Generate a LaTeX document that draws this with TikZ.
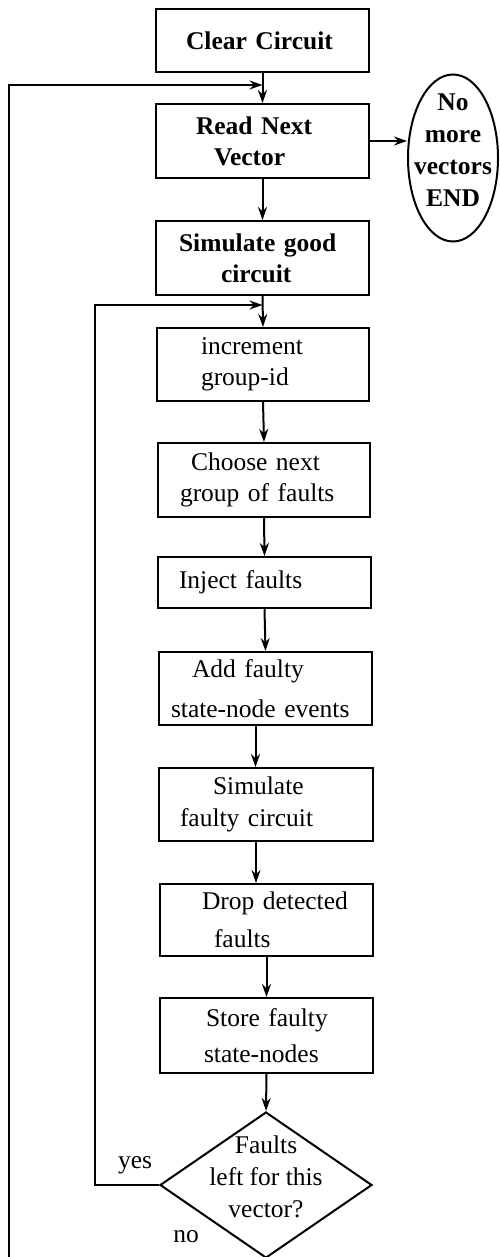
\documentclass[tikz,border=0pt]{standalone}
\usepackage{fontspec}
\setmainfont{Liberation Serif}
\usetikzlibrary{shapes.geometric,arrows.meta,calc}
\begin{document}
\begin{tikzpicture}[x=1pt,y=-1pt,
  box/.style={draw, line width=2pt, rectangle, anchor=north west, inner sep=0pt, align=left, font=\fontsize{25.5}{31}\selectfont},
  bbox/.style={box, font=\bfseries\fontsize{25.5}{31}\selectfont},
  arr/.style={line width=2pt, -{Stealth[length=13pt,width=9pt]}},
  lbl/.style={font=\fontsize{25.5}{31}\selectfont, inner sep=0pt}]
\path[use as bounding box] (0,0) rectangle (500,1257);
\clip (0,0) rectangle (500,1257);

\node[bbox, text width=213pt, minimum height=63pt] (clear) at (155,8) {\hspace*{30pt}Clear Circuit};
\node[bbox, text width=213pt, minimum height=74pt] (read) at (155,103) {\hspace*{40pt}Read Next\\\hspace*{58pt}Vector};
\node[bbox, text width=213pt, minimum height=74pt] (simgood) at (155,220) {\hspace*{23pt}Simulate good\\\hspace*{65pt}circuit};
\node[box, text width=212pt, minimum height=73pt] (incr) at (156,327) {\hspace*{44pt}increment\\\hspace*{44pt}group-id};
\node[box, text width=212pt, minimum height=74pt] (choose) at (157,442) {\hspace*{33pt}Choose next\\\hspace*{22pt}group of faults};
\node[box, text width=213pt, minimum height=51pt] (inject) at (157,556) {\hspace*{21pt}Inject faults};
\node[box, text width=213pt, minimum height=73pt] (add) at (158,651) {\hspace*{33pt}Add faulty\\[9pt]\hspace*{12pt}state-node events};
\node[box, text width=214pt, minimum height=73pt] (simf) at (158,767) {\hspace*{54pt}Simulate\\[1pt]\hspace*{21pt}faulty circuit};
\node[box, text width=213pt, minimum height=72pt] (drop) at (159,883) {\hspace*{42pt}Drop detected\\[7pt]\hspace*{54pt}faults};
\node[box, text width=213pt, minimum height=75pt] (store) at (159,997) {\hspace*{46pt}Store faulty\\[5pt]\hspace*{44pt}state-nodes};

\node[draw, ellipse, line width=2pt, minimum width=90pt, minimum height=167pt, inner sep=0pt, font=\bfseries\fontsize{25.5}{32}\selectfont] (end) at (453,158)
  {\makebox[0pt]{\smash{\begin{tabular}{@{}c@{}}No\\more\\vectors\\END\end{tabular}}}};

\node[draw, diamond, line width=2pt, minimum width=212pt, minimum height=146pt, inner sep=0pt, font=\fontsize{25.5}{32}\selectfont] (dia) at (266,1185)
  {\makebox[0pt]{\smash{\begin{tabular}{@{}c@{}}Faults\\left for this\\vector?\end{tabular}}}};

\node[lbl] (yes) at (135,1165) {yes};
\node[lbl] (no) at (186,1237) {no};

\coordinate (y85) at (0,85);
\coordinate (y305) at (0,305);
\coordinate (j1) at (clear.south |- y85);
\coordinate (j2) at (simgood.south |- y305);
\coordinate (o1) at (9,1300);
\coordinate (yc) at (95,305);

\draw[arr] (clear.south) -- (read.north);
\draw[arr] (read.south) -- (simgood.north);
\draw[arr] (simgood.south) -- (incr.north);
\draw[arr] (incr.south) -- (choose.north);
\draw[arr] (choose.south) -- (inject.north);
\draw[arr] (inject.south) -- (add.north);
\draw[arr] ([xshift=-10pt]add.south) -- ([xshift=-10pt]add.south |- simf.north);
\draw[arr] ([xshift=-10pt]simf.south) -- ([xshift=-10pt]simf.south |- drop.north);
\draw[arr] (drop.south) -- (store.north);
\draw[arr] (store.south) -- (dia.north);
\draw[arr] (read.east) -- (read.east -| end.west);

\draw[arr] (dia.south) |- (o1) |- (j1);
\draw[arr] (dia.west) -| (yc) -- (j2);
\end{tikzpicture}
\end{document}
